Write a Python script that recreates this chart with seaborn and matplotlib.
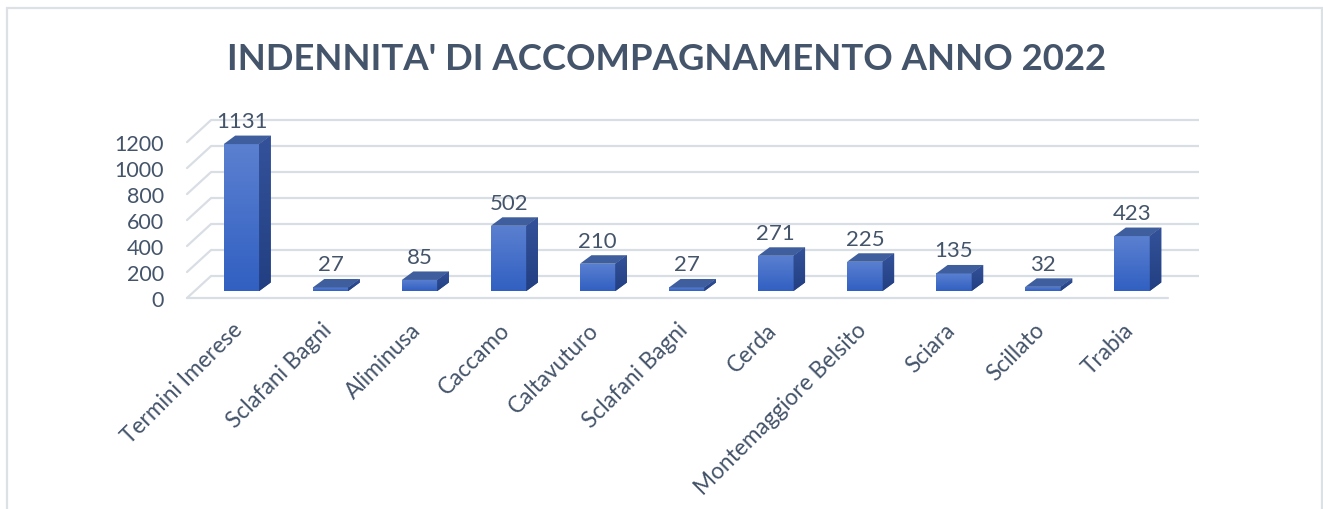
import numpy as np
import pandas as pd
import matplotlib
matplotlib.use("Agg")
import matplotlib.pyplot as plt
import seaborn as sns
from matplotlib.patches import Polygon, Rectangle
from matplotlib.colors import LinearSegmentedColormap

# ---------------- data ----------------
comuni = ["Termini Imerese", "Sclafani Bagni", "Aliminusa", "Caccamo", "Caltavuturo",
          "Sclafani Bagni ", "Cerda", "Montemaggiore Belsito", "Sciara", "Scillato", "Trabia"]
valori = [1131, 27, 85, 502, 210, 27, 271, 225, 135, 32, 423]
y_ticks = [0, 200, 400, 600, 800, 1000, 1200]
titolo = "INDENNITA' DI ACCOMPAGNAMENTO ANNO 2022"

df = pd.DataFrame({"comune": comuni, "valore": valori})

sns.set_theme(style="white")
plt.rcParams["font.family"] = ["Lato", "DejaVu Sans"]

W, H, DPI = 1323, 510, 100
fig = plt.figure(figsize=(W / DPI, H / DPI), dpi=DPI)
fig.patch.set_facecolor("white")

# axes geometry in pixels (front plane of bars)
x0_px = 241.5          # center of first bar
step_px = 89.05        # spacing between categories
base_top_px = 292.0    # y (from top) of value 0 on bar front plane
scale = 0.1299         # pixels per unit
xlim = (-1.0, 11.0)
ylim = (-100, 1300)
ax_left = x0_px + xlim[0] * step_px
ax_w = (xlim[1] - xlim[0]) * step_px
ax_bottom = (H - base_top_px) + ylim[0] * scale
ax_h = (ylim[1] - ylim[0]) * scale
ax = fig.add_axes([ax_left / W, ax_bottom / H, ax_w / W, ax_h / H])
ax.set_facecolor("none")

TXT = "#44546A"
GRID = "#D9DEE5"

px_x = 1.0 / step_px   # data units per pixel (x)
px_y = 1.0 / scale     # data units per pixel (y)

def X(px):  # pixel x (from left) -> data x
    return (px - x0_px) * px_x

# ---------------- bars (front faces) ----------------
bar_w = 35.5 * px_x
sns.barplot(data=df, x="comune", y="valore", ax=ax, color="#4472C4",
            width=bar_w, saturation=1, zorder=3, order=comuni)
ax.set_xlim(*xlim)
ax.set_ylim(*ylim)

# ---------------- walls / grid ----------------
front_dy = -7.0   # front edge of floor/wall relative to bar front plane (px)
back_dy = 15.0
wall_front_x = X(187)
wall_back_x = X(211)
back_right_x = X(1199)
floor_right_x = X(1168)
for v in y_ticks:
    yb = v + back_dy * px_y
    yf = v + front_dy * px_y
    ax.plot([wall_back_x, back_right_x], [yb, yb], color=GRID, lw=1.6, zorder=1,
            solid_capstyle="butt", clip_on=False)
    ax.plot([wall_front_x, wall_back_x], [yf, yb], color=GRID, lw=1.6, zorder=1,
            clip_on=False)
ax.plot([wall_front_x, floor_right_x], [front_dy * px_y] * 2, color=GRID, lw=1.6,
        zorder=1, clip_on=False)

dx = 11.5 * px_x
dy = 8.5 * px_y
grad = np.linspace(0, 1, 256).reshape(-1, 1)
front_cmap = LinearSegmentedColormap.from_list("f", ["#3160C2", "#5B80D0"])
side_cmap = LinearSegmentedColormap.from_list("s", ["#223F82", "#34529A"])
for i, patch in enumerate(list(ax.patches)):
    x_l = patch.get_x()
    w = patch.get_width()
    h = patch.get_height()
    patch.set_edgecolor("none")
    im = ax.imshow(grad, extent=[x_l, x_l + w, 0, h], origin="lower", aspect="auto",
                   cmap=front_cmap, zorder=3.1)
    im.set_clip_path(patch)
    top = Polygon([[x_l, h], [x_l + w, h], [x_l + w + dx, h + dy], [x_l + dx, h + dy]],
                  closed=True, facecolor="#3F5E9E", edgecolor="none", zorder=3.2)
    ax.add_patch(top)
    side = Polygon([[x_l + w, 0], [x_l + w + dx, dy], [x_l + w + dx, h + dy], [x_l + w, h]],
                   closed=True, facecolor="#2C4A8E", edgecolor="none", zorder=3.2)
    ax.add_patch(side)
    im2 = ax.imshow(grad, extent=[x_l + w, x_l + w + dx, 0, h + dy], origin="lower",
                    aspect="auto", cmap=side_cmap, zorder=3.25)
    im2.set_clip_path(side)
    ax.text(x_l + w / 2, h + 17 * px_y, f"{valori[i]}", ha="center", va="baseline",
            fontsize=16, color=TXT, zorder=5)
ax.set_xlim(*xlim)
ax.set_ylim(*ylim)

# ---------------- axes text ----------------
ax.set_xlabel("")
ax.set_ylabel("")
sns.despine(ax=ax, left=True, bottom=True)
ax.set_xticks([])
ax.set_yticks([])
ax.grid(False)

# y tick labels aligned with the front edge of the left wall
for v in y_ticks:
    ax.text(X(164), v + front_dy * px_y, str(v), ha="right", va="center_baseline",
            fontsize=15.5, color=TXT, clip_on=False)

# category labels: anchor at bar center, below the floor
for i, c in enumerate(comuni):
    ax.text(i - 2 * px_x, -35 * px_y, c.strip(), rotation=45, ha="right", va="center",
            rotation_mode="anchor", fontsize=16.3, color=TXT, clip_on=False)

# ---------------- title and frame ----------------
fig.text(666.5 / W, 1 - 69.5 / H, titolo, ha="center", va="baseline", fontsize=26.3,
         fontweight="bold", color=TXT)
fig.patches.append(Rectangle((7 / W, -10 / H), 1314.5 / W, (H - 8.5 + 10) / H,
                             transform=fig.transFigure, fill=False, edgecolor="#DCE1E6",
                             lw=1.6, zorder=0))

fig.savefig("out.png", dpi=DPI, facecolor="white")
